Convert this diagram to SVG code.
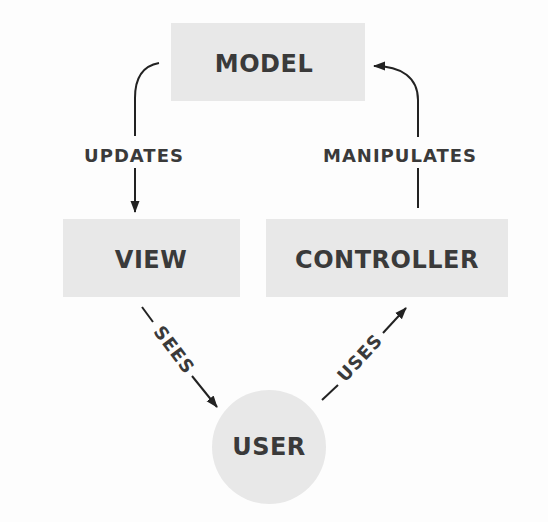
<svg xmlns="http://www.w3.org/2000/svg" width="548" height="522" viewBox="0 0 548 522">
<defs>
<style>
.node{fill:#e8e8e8}
.t{font-family:"DejaVu Sans","Verdana",sans-serif;font-weight:bold;fill:#3a3a3a;text-anchor:middle}
.big{font-size:24px;letter-spacing:0.5px}
.lbl{font-size:18px;letter-spacing:1px}
.c{fill:none;stroke:#222;stroke-width:2}
</style>
<marker id="ah" markerUnits="userSpaceOnUse" markerWidth="12" markerHeight="12" viewBox="0 0 12 12" refX="11" refY="6" orient="auto">
<path d="M0,1.5 L12,6 L0,10.5 Z" fill="#222"/>
</marker>
</defs>
<rect width="548" height="522" fill="#fdfdfd"/>
<g id="connectors">
<path class="c" d="M159,63 C142,66 135,78 135,98 L135,136"/>
<path class="c" d="M135,168 L135,212" marker-end="url(#ah)"/>
<path class="c" d="M418,208 L418,168"/>
<path class="c" d="M418,137 L418,100 C418,78 402,66 374,66" marker-end="url(#ah)"/>
<path class="c" d="M142,307 L153,322"/>
<path class="c" d="M192,376 L217,407" marker-end="url(#ah)"/>
<path class="c" d="M322,400 L338,385"/>
<path class="c" d="M383,333 L406,308" marker-end="url(#ah)"/>
<text class="t lbl" x="134" y="162">UPDATES</text>
<text class="t lbl" x="400" y="162">MANIPULATES</text>
<text class="t lbl" transform="translate(174,350) rotate(53.13)" y="6">SEES</text>
<text class="t lbl" transform="translate(360,358) rotate(-47.6)" y="6">USES</text>
</g>
<g id="model">
<rect class="node" x="171" y="23" width="194" height="78"/>
<text class="t big" x="264" y="72">MODEL</text>
</g>
<g id="view">
<rect class="node" x="63" y="219" width="177" height="78"/>
<text class="t big" x="151" y="268">VIEW</text>
</g>
<g id="controller">
<rect class="node" x="266" y="219" width="242" height="78"/>
<text class="t big" x="387" y="268">CONTROLLER</text>
</g>
<g id="user">
<circle class="node" cx="269" cy="447" r="57"/>
<text class="t big" x="269" y="455">USER</text>
</g>
</svg>
